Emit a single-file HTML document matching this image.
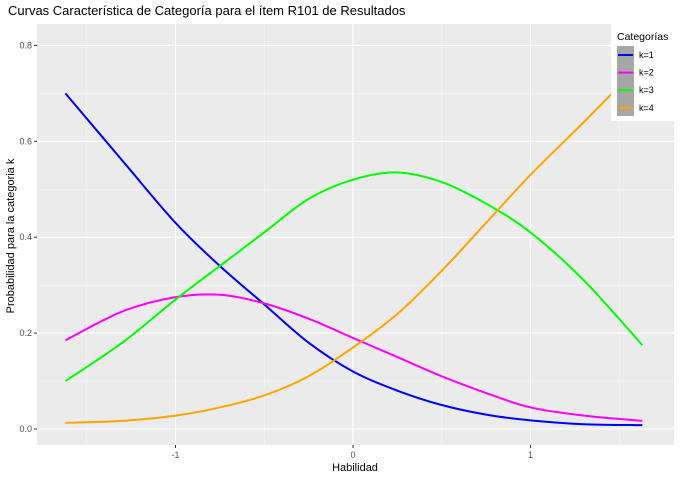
<!DOCTYPE html>
<html><head><meta charset="utf-8"><style>
body{margin:0;background:#fff;font-family:"Liberation Sans",Arial,sans-serif}
</style></head><body>
<svg id="c" width="680" height="480" xmlns="http://www.w3.org/2000/svg"></svg>
<script>
const xs=[-1.62,-1.3,-1,-0.75,-0.5,-0.25,0,0.25,0.5,0.75,1,1.3,1.63];
const k1=[0.70,0.56,0.43,0.34,0.26,0.18,0.12,0.08,0.05,0.03,0.018,0.01,0.008];
const k2=[0.185,0.245,0.275,0.28,0.262,0.23,0.19,0.15,0.11,0.075,0.045,0.028,0.017];
const k3=[0.10,0.18,0.27,0.34,0.41,0.48,0.52,0.535,0.515,0.47,0.41,0.31,0.175];
const k4=[0.013,0.017,0.028,0.045,0.07,0.11,0.17,0.24,0.33,0.43,0.53,0.64,0.765];
const xTicks=[-1,0,1];
const yTicks=[0,0.2,0.4,0.6,0.8];
const seriesNames=["k=1","k=2","k=3","k=4"];
const colors=["#0000ff","#ff00ff","#00ff00","#ffa500"];
const NS="http://www.w3.org/2000/svg";
const svg=document.getElementById('c');
const L=37,R=674,T=24,B=445;
const X=v=>353+v*177.5;
const Y=v=>429-v*479.5;
function el(t,a,p){const e=document.createElementNS(NS,t);for(const k in a)e.setAttribute(k,a[k]);(p||svg).appendChild(e);return e;}
const panel=el('rect',{x:L,y:T,width:R-L,height:B-T,fill:'#ebebeb'});


[-1.5,-0.5,0.5,1.5].forEach(v=>{const g=el('line',{x1:X(v),x2:X(v),y1:T,y2:B,stroke:'#f7f7f7','stroke-width':0.6});});
[0.1,0.3,0.5,0.7].forEach(v=>{const g=el('line',{x1:L,x2:R,y1:Y(v),y2:Y(v),stroke:'#f7f7f7','stroke-width':0.6});});
xTicks.forEach(v=>{
 const g=el('line',{x1:X(v),x2:X(v),y1:T,y2:B,stroke:'#fff','stroke-width':1.1});
 
 el('line',{x1:X(v),x2:X(v),y1:B,y2:B+3,stroke:'#333'});
 const t=el('text',{x:X(v),y:B+13,'text-anchor':'middle','font-size':9,fill:'#4d4d4d'});t.textContent=v;
 
});
yTicks.forEach(v=>{
 const g=el('line',{x1:L,x2:R,y1:Y(v),y2:Y(v),stroke:'#fff','stroke-width':1.1});
 
 el('line',{x1:L-3,x2:L,y1:Y(v),y2:Y(v),stroke:'#333'});
 const t=el('text',{x:L-5,y:Y(v)+3,'text-anchor':'end','font-size':9,fill:'#4d4d4d'});t.textContent=v.toFixed(1);
 
});
function path(ys){
 const p=xs.map((x,i)=>[X(x),Y(ys[i])]);
 let d='M'+p[0][0]+','+p[0][1];
 for(let i=0;i<p.length-1;i++){
  const p0=p[i-1]||p[i],p1=p[i],p2=p[i+1],p3=p[i+2]||p2;
  d+=' C'+(p1[0]+(p2[0]-p0[0])/6)+','+(p1[1]+(p2[1]-p0[1])/6)+' '+(p2[0]-(p3[0]-p1[0])/6)+','+(p2[1]-(p3[1]-p1[1])/6)+' '+p2[0]+','+p2[1];
 }
 return d;
}
[k1,k2,k3,k4].forEach((s,i)=>{
 const e=el('path',{d:path(s),fill:'none',stroke:colors[i],'stroke-width':2});
 
});
const title=el('text',{x:8,y:15,'font-size':13,fill:'#000'});title.textContent='Curvas Característica de Categoría para el ítem R101 de Resultados';

const xt=el('text',{x:355,y:471,'text-anchor':'middle','font-size':11,fill:'#000'});xt.textContent='Habilidad';

const yt=el('text',{x:14,y:236,'text-anchor':'middle','font-size':11,fill:'#000',transform:'rotate(-90 14 236)'});yt.textContent='Probabilidad para la categoria k';

const lg=el('g',{});

el('rect',{x:611,y:24,width:63,height:97,fill:'#fff'},lg);
const lt=el('text',{x:617,y:40,'font-size':10.5,fill:'#000'},lg);lt.textContent='Categorías';
el('rect',{x:617,y:46,width:17,height:70,fill:'#a6a6a6'},lg);
seriesNames.forEach((n,i)=>{
 const y=55+i*17.6;
 const g=el('g',{},lg);
 
 el('line',{x1:618,x2:633,y1:y,y2:y,stroke:colors[i],'stroke-width':2},g);
 const t=el('text',{x:639,y:y+3,'font-size':9,fill:'#000'},g);t.textContent=n;
});
</script>
</body></html>
